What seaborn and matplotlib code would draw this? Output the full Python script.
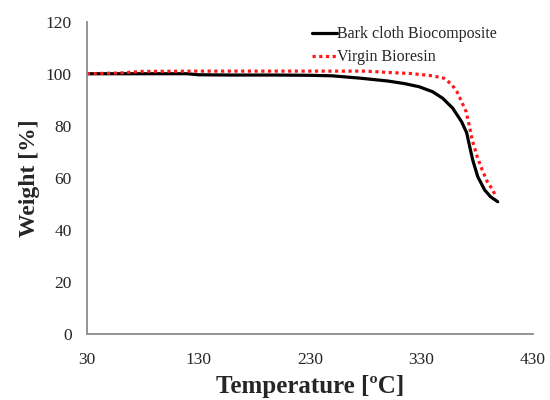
import matplotlib
matplotlib.use("Agg")
import matplotlib.pyplot as plt
import seaborn as sns
import pandas as pd

# TGA curves: temperature (°C) vs residual weight (%)
bark_temp = [30, 60, 90, 120, 130, 160, 200, 230, 250, 275, 300, 315, 328, 340,
             349, 358, 366, 370.6, 373.3, 376, 380.5, 386.7, 392, 398.4]
bark_weight = [100, 100, 100, 100, 99.6, 99.5, 99.5, 99.4, 99.2, 98.3, 97.2, 96.2,
               95.0, 93.1, 90.6, 86.8, 81.6, 77.3, 72.0, 66.9, 60.5, 55.4, 52.8, 50.9]

resin_temp = [30, 60, 80, 130, 180, 230, 280, 300, 320, 340, 350, 357, 362, 366,
              370, 373, 375.5, 380, 384.5, 389, 394, 396]
resin_weight = [100, 100.3, 100.9, 101, 101, 101, 101, 100.5, 100.1, 99.2, 98.3,
                96.0, 93.0, 89.3, 85.5, 80.0, 74.6, 68.2, 63.1, 58.6, 55.4, 53.5]

series_names = ["Bark cloth Biocomposite", "Virgin Bioresin"]
x_ticks = [30, 130, 230, 330, 430]
y_ticks = [0, 20, 40, 60, 80, 100, 120]

sns.set_theme(style="white")
plt.rcParams["font.family"] = ["Liberation Serif", "DejaVu Serif"]

fig = plt.figure(figsize=(5.5, 4.0), dpi=100)
ax = fig.add_axes([0.158, 0.164, 0.811, 0.782])

bark = pd.DataFrame({"T": bark_temp, "W": bark_weight})
resin = pd.DataFrame({"T": resin_temp, "W": resin_weight})

sns.lineplot(data=bark, x="T", y="W", ax=ax, color="black", linewidth=2.3,
             label=series_names[0])
sns.lineplot(data=resin, x="T", y="W", ax=ax, color="#ff1a1a", linewidth=2.3,
             linestyle=(0, (1, 1.1)), label=series_names[1])

ax.set_xlim(x_ticks[0], x_ticks[-1])
ax.set_ylim(y_ticks[0], y_ticks[-1])
ax.set_xticks(x_ticks)
ax.set_yticks(y_ticks)

for side in ("top", "right"):
    ax.spines[side].set_visible(False)
for side in ("left", "bottom"):
    ax.spines[side].set_color("#8c8c8c")
    ax.spines[side].set_linewidth(1.3)

ax.tick_params(axis="both", which="major", direction="out", length=5, width=1.3,
               color="#8c8c8c", labelsize=12.5, labelcolor="#262626")
ax.tick_params(axis="y", pad=6)
ax.tick_params(axis="x", pad=8)

ax.set_xlabel("Temperature [ºC]", fontsize=18, fontweight="bold", labelpad=5)
ax.set_ylabel("Weight [%]", fontsize=17, fontweight="bold", labelpad=4)

leg = ax.legend(loc="upper left", bbox_to_anchor=(0.491, 1.006), frameon=False,
                fontsize=11.5, handlelength=1.55, handletextpad=0.0,
                labelspacing=0.45, borderaxespad=0)

fig.savefig("out.png", dpi=100)
